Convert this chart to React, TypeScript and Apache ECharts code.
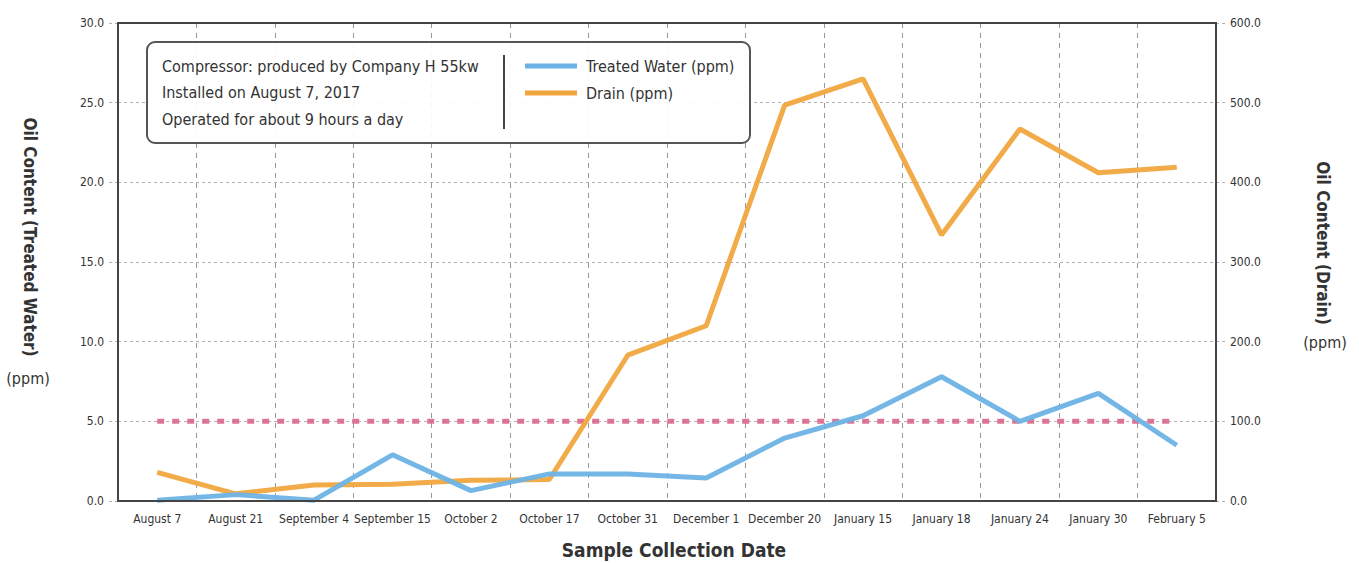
import React, { useEffect, useRef } from "react";
import * as echarts from "echarts";

const categories = [
  "August 7", "August 21", "September 4", "September 15", "October 2", "October 17",
  "October 31", "December 1", "December 20", "January 15", "January 18", "January 24",
  "January 30", "February 5",
];
const treatedWater = [0.05, 0.4, 0.05, 2.9, 0.65, 1.7, 1.7, 1.45, 3.95, 5.35, 7.8, 5.0, 6.75, 3.5];
const drain = [36, 9, 20, 21, 26, 27, 183, 220, 497, 530, 334, 467, 412, 419];
const limitLine = [5, 5, 5, 5, 5, 5, 5, 5, 5, 5, 5, 5, 5, 5];
const infoLines = [
  "Compressor: produced by Company H 55kw",
  "Installed on August 7, 2017",
  "Operated for about 9 hours a day",
];

const FONT = '"Liberation Sans Narrow", "DejaVu Sans Condensed", "Roboto Condensed", Roboto, sans-serif';

export default function App() {
  const ref = useRef<HTMLDivElement>(null);
  useEffect(() => {
    if (!ref.current) return;
    const chart = echarts.init(ref.current, undefined, { renderer: "svg" });
    const dashed = { color: "#b0b0b0", type: [3, 3] as any, width: 1 };
    chart.setOption({
      animation: false,
      textStyle: { fontFamily: FONT },
      grid: { left: 118, right: 143, top: 23, bottom: 62, show: false },
      legend: {
        show: true,
        orient: "vertical",
        left: 520,
        top: 53,
        z: 30,
        itemWidth: 52,
        itemHeight: 5,
        itemGap: 11,
        icon: "rect",
        data: ["Treated Water (ppm)", "Drain (ppm)"],
        textStyle: { fontFamily: FONT, fontSize: 16, color: "#333", padding: [0, 0, 0, 4] },
      },
      xAxis: {
        type: "category",
        data: categories,
        boundaryGap: true,
        axisLine: { show: false },
        axisTick: { show: false },
        axisLabel: { color: "#333", fontSize: 12, margin: 12, interval: 0, fontFamily: FONT },
        splitLine: { show: true, interval: 0, lineStyle: { color: "#999", type: [5, 5] as any, width: 1 } },
      },
      yAxis: [
        {
          type: "value", min: 0, max: 30, interval: 5, position: "left",
          axisLine: { show: false },
          axisTick: { show: true, length: 10, lineStyle: dashed },
          axisLabel: { color: "#333", fontSize: 12, margin: 14, formatter: (v: number) => v.toFixed(1), fontFamily: FONT },
          splitLine: { show: true, lineStyle: dashed },
        },
        {
          type: "value", min: 0, max: 600, interval: 100, position: "right",
          axisLine: { show: false },
          axisTick: { show: true, length: 10, lineStyle: dashed },
          axisLabel: { color: "#333", fontSize: 12, margin: 14, formatter: (v: number) => v.toFixed(1), fontFamily: FONT },
          splitLine: { show: false },
        },
      ],
      series: [
        {
          name: "Limit",
          type: "line",
          data: limitLine,
          yAxisIndex: 0,
          symbol: "none",
          silent: true,
          lineStyle: { color: "#d9668c", width: 5, type: [7, 8] as any, opacity: 0.9 },
          z: 1,
        },
        {
          name: "Drain (ppm)",
          type: "line",
          data: drain,
          yAxisIndex: 1,
          symbol: "none",
          itemStyle: { color: "#f0a63e" },
          lineStyle: { color: "#f0a63e", width: 5, opacity: 0.95 },
          z: 2,
        },
        {
          name: "Treated Water (ppm)",
          type: "line",
          data: treatedWater,
          yAxisIndex: 0,
          symbol: "none",
          itemStyle: { color: "#6db3e6" },
          lineStyle: { color: "#6db3e6", width: 5, opacity: 0.95 },
          z: 3,
        },
      ],
      graphic: [
        {
          type: "rect",
          shape: { x: 118, y: 23, width: 1098, height: 478 },
          style: { fill: "none", stroke: "#444", lineWidth: 2 },
          z: 5,
        },
        {
          type: "rect",
          shape: { x: 147, y: 42, width: 603, height: 101, r: 8 },
          style: { fill: "rgba(255,255,255,0.92)", stroke: "#555", lineWidth: 2 },
          z: 10,
        },
        {
          type: "line",
          shape: { x1: 504, y1: 55, x2: 504, y2: 129 },
          style: { stroke: "#444", lineWidth: 2 },
          z: 11,
        },
        ...infoLines.map((t, i) => ({
          type: "text",
          x: 162,
          y: 66 + i * 26.5,
          style: { text: t, fontFamily: FONT, fontSize: 16, fill: "#333", verticalAlign: "middle", align: "left" },
          z: 11,
        })),
        {
          type: "text", x: 30, y: 237, rotation: -Math.PI / 2,
          style: { text: "Oil Content (Treated Water)", fontFamily: FONT, fontSize: 17, fontWeight: "bold", fill: "#333", align: "center", verticalAlign: "middle" },
        },
        {
          type: "text", x: 28, y: 378,
          style: { text: "(ppm)", fontFamily: FONT, fontSize: 16, fill: "#333", align: "center", verticalAlign: "middle" },
        },
        {
          type: "text", x: 1323, y: 243, rotation: -Math.PI / 2,
          style: { text: "Oil Content (Drain)", fontFamily: FONT, fontSize: 17, fontWeight: "bold", fill: "#333", align: "center", verticalAlign: "middle" },
        },
        {
          type: "text", x: 1325, y: 342,
          style: { text: "(ppm)", fontFamily: FONT, fontSize: 16, fill: "#333", align: "center", verticalAlign: "middle" },
        },
        {
          type: "text", x: 674, y: 550,
          style: { text: "Sample Collection Date", fontFamily: FONT, fontSize: 19, fontWeight: "bold", fill: "#333", align: "center", verticalAlign: "middle" },
        },
      ],
    });
    return () => chart.dispose();
  }, []);
  return <div ref={ref} style={{ position: "absolute", left: 0, top: 0, width: 1359, height: 563 }} />;
}
